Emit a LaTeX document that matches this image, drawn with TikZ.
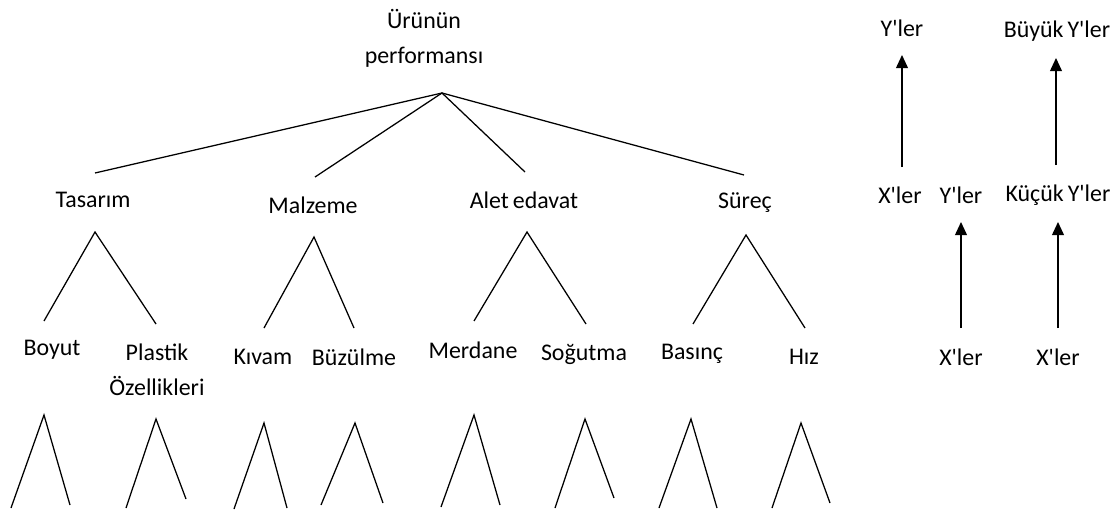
\documentclass[tikz,border=0pt]{standalone}
\usepackage{fontspec}
\setmainfont{Carlito}
\usepackage{tikz}
\usetikzlibrary{arrows.meta}
\newcommand{\ap}{\textquotesingle}

\begin{document}
\begin{tikzpicture}[x=0.025cm, y=-0.025cm,
    lbl/.style={inner sep=1pt, font=\fontsize{17}{25}\selectfont, align=center},
    branch/.style={line width=0.9pt},
    upar/.style={line width=0.9pt, -{Triangle[length=3.3mm, width=3mm]}}]
  \useasboundingbox (0,0) rectangle (1113,512);

  % Root
  \node[lbl] (root) at (424,38) {Ürünün\\performansı};
  \coordinate (top) at (442,93);

  % Level one
  \node[lbl] (tas) at (93,200) {Tasarım};
  \node[lbl] (mal) at (313,205) {Malzeme};
  \node[lbl] (ale) at (524,200) {Alet\,edavat};
  \node[lbl] (sur) at (745,203) {Süreç};
  \coordinate (tasE) at (95,173);
  \coordinate (malE) at (315,177);
  \coordinate (aleE) at (525,172);
  \coordinate (surE) at (744,175);
  \draw[branch] (tasE) -- (top) -- (surE);
  \draw[branch] (malE) -- (top) -- (aleE);

  % Level two
  \node[lbl] (boy) at (52,350) {Boyut};
  \node[lbl] (pla) at (157,370) {Plastik\\Özellikleri};
  \node[lbl] (kiv) at (263,357) {Kıvam};
  \node[lbl] (buz) at (354,357) {Büzülme};
  \node[lbl] (mer) at (473,350) {Merdane};
  \node[lbl] (sog) at (584,354) {Soğutma};
  \node[lbl] (bas) at (692,354) {Basınç};
  \node[lbl] (hiz) at (804,357) {Hız};

  \coordinate (tasA) at (95,232);
  \coordinate (malA) at (314,237);
  \coordinate (aleA) at (527,232);
  \coordinate (surA) at (746,235);
  \coordinate (boyE) at (44,321);
  \coordinate (plaE) at (156,324);
  \coordinate (kivE) at (264,328);
  \coordinate (buzE) at (354,328);
  \coordinate (merE) at (474,321);
  \coordinate (sogE) at (586,324);
  \coordinate (basE) at (693,324);
  \coordinate (hizE) at (805,328);
  \draw[branch] (boyE) -- (tasA) -- (plaE);
  \draw[branch] (kivE) -- (malA) -- (buzE);
  \draw[branch] (merE) -- (aleA) -- (sogE);
  \draw[branch] (basE) -- (surA) -- (hizE);

  % Level three (open ends)
  \coordinate (boyA) at (44,415);    \coordinate (boyL) at (11,508);  \coordinate (boyR) at (70,505);
  \coordinate (plaA) at (156,419);   \coordinate (plaL) at (126,508); \coordinate (plaR) at (186,499);
  \coordinate (kivA) at (264,423);   \coordinate (kivL) at (234,509); \coordinate (kivR) at (287,508);
  \coordinate (buzA) at (355,423);   \coordinate (buzL) at (321,505); \coordinate (buzR) at (383,503);
  \coordinate (merA) at (474,415);   \coordinate (merL) at (441,507); \coordinate (merR) at (500,505);
  \coordinate (sogA) at (585,419);   \coordinate (sogL) at (555,508); \coordinate (sogR) at (614,498);
  \coordinate (basA) at (691,419);   \coordinate (basL) at (659,508); \coordinate (basR) at (717,508);
  \coordinate (hizA) at (801,423);   \coordinate (hizL) at (772,508); \coordinate (hizR) at (830,503);
  \draw[branch] (boyL) -- (boyA) -- (boyR);
  \draw[branch] (plaL) -- (plaA) -- (plaR);
  \draw[branch] (kivL) -- (kivA) -- (kivR);
  \draw[branch] (buzL) -- (buzA) -- (buzR);
  \draw[branch] (merL) -- (merA) -- (merR);
  \draw[branch] (sogL) -- (sogA) -- (sogR);
  \draw[branch] (basL) -- (basA) -- (basR);
  \draw[branch] (hizL) -- (hizA) -- (hizR);

  % Key
  \node[lbl] (y1) at (902,28) {Y\ap ler};
  \node[lbl] (by) at (1057,31) {Büyük\,Y\ap ler};
  \node[lbl] (x1) at (900,195) {X\ap ler};
  \node[lbl] (y2) at (961,195) {Y\ap ler};
  \node[lbl] (ky) at (1058,195) {Küçük\,Y\ap ler};
  \node[lbl] (x2) at (961,357) {X\ap ler};
  \node[lbl] (x3) at (1058,357) {X\ap ler};

  \coordinate (a1s) at (902,167); \coordinate (a1e) at (902,55);
  \coordinate (a2s) at (1056,165); \coordinate (a2e) at (1056,58);
  \coordinate (a3s) at (961,328); \coordinate (a3e) at (961,222);
  \coordinate (a4s) at (1058,328); \coordinate (a4e) at (1058,222);
  \draw[upar] (a1s) -- (a1e);
  \draw[upar] (a2s) -- (a2e);
  \draw[upar] (a3s) -- (a3e);
  \draw[upar] (a4s) -- (a4e);
\end{tikzpicture}
\end{document}
